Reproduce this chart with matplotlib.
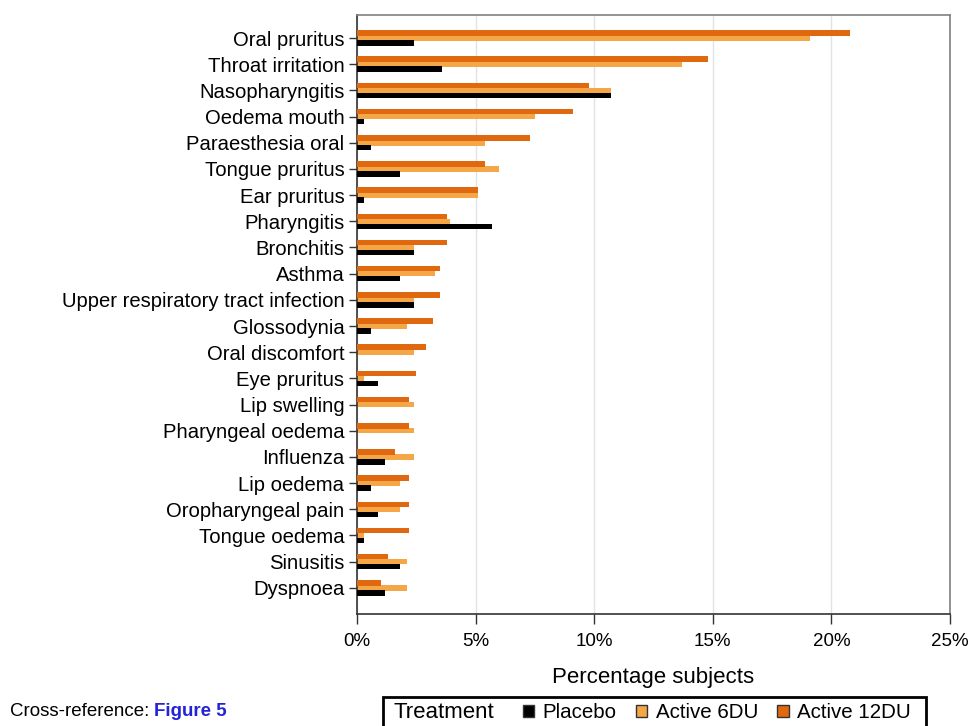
import matplotlib
matplotlib.use("Agg")
import matplotlib.pyplot as plt
from matplotlib.patches import Rectangle, Patch
import numpy as np

plt.rcParams['font.family'] = ['Liberation Sans', 'DejaVu Sans']

categories = [
    "Oral pruritus", "Throat irritation", "Nasopharyngitis", "Oedema mouth",
    "Paraesthesia oral", "Tongue pruritus", "Ear pruritus", "Pharyngitis",
    "Bronchitis", "Asthma", "Upper respiratory tract infection", "Glossodynia",
    "Oral discomfort", "Eye pruritus", "Lip swelling", "Pharyngeal oedema",
    "Influenza", "Lip oedema", "Oropharyngeal pain", "Tongue oedema",
    "Sinusitis", "Dyspnoea",
]
active_12du = [20.8, 14.8, 9.8, 9.1, 7.3, 5.4, 5.1, 3.8, 3.8, 3.5, 3.5, 3.2,
               2.9, 2.5, 2.2, 2.2, 1.6, 2.2, 2.2, 2.2, 1.3, 1.0]
active_6du = [19.1, 13.7, 10.7, 7.5, 5.4, 6.0, 5.1, 3.9, 2.4, 3.3, 2.4, 2.1,
              2.4, 0.3, 2.4, 2.4, 2.4, 1.8, 1.8, 0.3, 2.1, 2.1]
placebo = [2.4, 3.6, 10.7, 0.3, 0.6, 1.8, 0.3, 5.7, 2.4, 1.8, 2.4, 0.6,
           0.0, 0.9, 0.0, 0.0, 1.2, 0.6, 0.9, 0.3, 1.8, 1.2]
x_ticks = [0, 5, 10, 15, 20, 25]
x_tick_labels = ["0%", "5%", "10%", "15%", "20%", "25%"]

c_placebo = "#000000"
c_6du = "#F5A646"
c_12du = "#E0680E"

fig = plt.figure(figsize=(9.68, 7.26), dpi=100)
ax = fig.add_axes([357 / 968, 1 - 614 / 726, (950 - 357) / 968, (614 - 15) / 726])

y = np.arange(len(categories))
off = 0.19
h = 0.21
ax.barh(y, active_6du, height=h, color=c_6du, zorder=2)
ax.barh(y - off, active_12du, height=h, color=c_12du, zorder=3)
ax.barh(y + off, placebo, height=h, color=c_placebo, zorder=3)

ax.set_ylim(len(categories) - 1 + 1.0, -0.88)
ax.set_yticks(y)
ax.set_yticklabels(categories, fontsize=14.6)
ax.set_xlim(0, 25)
ax.set_xticks(x_ticks)
ax.set_xticklabels(x_tick_labels, fontsize=13.5)
ax.tick_params(axis='y', length=6, width=1.0, color="#333333", pad=3)
ax.tick_params(axis='x', length=7, width=1.0, color="#333333", pad=7)
ax.xaxis.grid(True, color="#E2E2E2", linewidth=1.0, zorder=0)
ax.set_axisbelow(True)
for side in ("top", "right"):
    ax.spines[side].set_color("#808080")
    ax.spines[side].set_linewidth(1.2)
for side in ("left", "bottom"):
    ax.spines[side].set_color("#333333")
    ax.spines[side].set_linewidth(1.2)

ax.set_xlabel("Percentage subjects", fontsize=16, labelpad=12)

# footer note: plain prefix followed by the highlighted link text
prefix = fig.text(10 / 968, 1 - 711 / 726, "Cross-reference:", fontsize=13.5,
                  ha='left', va='center')
fig.canvas.draw()
bb = prefix.get_window_extent(renderer=fig.canvas.get_renderer())
fig.text((bb.x1 + 5) / 968, 1 - 711 / 726, "Figure 5", fontsize=13.5,
         color="#2323D8", fontweight='bold', ha='left', va='center')

# legend panel
fig.patches.append(Rectangle((383 / 968, 1 - 730 / 726), (926 - 383) / 968,
                             33 / 726, transform=fig.transFigure,
                             facecolor="white", edgecolor="black",
                             linewidth=2.0, clip_on=False))
fig.text(393 / 968, 1 - 713 / 726, "Treatment", fontsize=16,
         ha='left', va='center')
handles = [Patch(facecolor=c_placebo, edgecolor="#333333"),
           Patch(facecolor=c_6du, edgecolor="#333333"),
           Patch(facecolor=c_12du, edgecolor="#333333")]
fig.legend(handles, ["Placebo", "Active 6DU", "Active 12DU"], ncol=3,
           loc='center left', bbox_to_anchor=(523 / 968, 1 - 713 / 726),
           frameon=False, fontsize=14.8, handlelength=0.55, handleheight=0.55,
           handletextpad=0.4, columnspacing=0.95, borderpad=0, borderaxespad=0)

fig.savefig("out.png", dpi=100)
